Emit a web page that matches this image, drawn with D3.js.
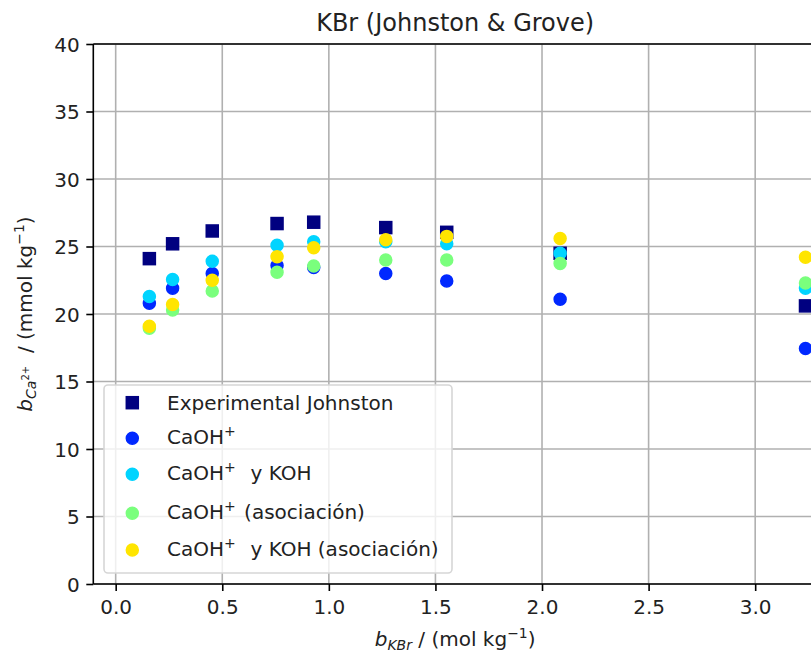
<!DOCTYPE html>
<html>
<head>
<meta charset="utf-8">
<script src="https://cdn.jsdelivr.net/npm/d3@7"></script>
<style>
  html, body { margin: 0; padding: 0; background: #fff; }
  svg { display: block; font-family: "DejaVu Sans", sans-serif; }
</style>
</head>
<body>
<div id="chart"></div>
<script>
// ---- data ----
const bKBr = [0.158, 0.267, 0.453, 0.757, 0.929, 1.267, 1.553, 2.085, 3.236];
const experimentalJohnston = [24.1, 25.2, 26.15, 26.7, 26.8, 26.4, 26.05, 24.5, 20.6];
const caohPlus = [20.8, 21.9, 23.0, 23.6, 23.45, 23.0, 22.45, 21.1, 17.45];
const caohPlusKOH = [21.3, 22.55, 23.9, 25.1, 25.35, 25.35, 25.2, 24.5, 21.9];
const caohPlusAsoc = [18.95, 20.3, 21.7, 23.1, 23.55, 24.0, 24.0, 23.75, 22.3];
const caohPlusKOHAsoc = [19.1, 20.7, 22.5, 24.25, 24.9, 25.5, 25.75, 25.6, 24.2];
const xTicks = [0.0, 0.5, 1.0, 1.5, 2.0, 2.5, 3.0];
const yTicks = [0, 5, 10, 15, 20, 25, 30, 35, 40];
const titleText = "KBr (Johnston & Grove)";

const series = [
  { values: experimentalJohnston, shape: "square", color: "#000080",
    label: [["Experimental Johnston", ""]] },
  { values: caohPlus, shape: "circle", color: "#0028ff",
    label: [["CaOH", ""], ["+", "sup"]] },
  { values: caohPlusKOH, shape: "circle", color: "#00d4ff",
    label: [["CaOH", ""], ["+", "sup"], ["\u00a0\u00a0y KOH", "post"]] },
  { values: caohPlusAsoc, shape: "circle", color: "#7aff7d",
    label: [["CaOH", ""], ["+", "sup"], ["\u00a0(asociación)", "post"]] },
  { values: caohPlusKOHAsoc, shape: "circle", color: "#ffe500",
    label: [["CaOH", ""], ["+", "sup"], ["\u00a0\u00a0y KOH (asociación)", "post"]] }
];

// ---- layout ----
const W = 811, H = 658;
const plot = { left: 93.3, right: 817, top: 44, bottom: 584 };
const FS = 20;

const svg = d3.select("#chart").append("svg")
  .attr("width", W).attr("height", H);

const x = d3.scaleLinear().domain([-0.105, 3.29]).range([plot.left, plot.right]);
const y = d3.scaleLinear().domain([0, 40]).range([plot.bottom, plot.top]);

// grid
const grid = svg.append("g");
grid.selectAll(".gx").data(xTicks).join("line")
  .attr("x1", d => x(d)).attr("x2", d => x(d))
  .attr("y1", plot.top).attr("y2", plot.bottom)
  .attr("stroke", "#b0b0b0").attr("stroke-width", 1.6);
grid.selectAll(".gy").data(yTicks).join("line")
  .attr("x1", plot.left).attr("x2", plot.right)
  .attr("y1", d => y(d)).attr("y2", d => y(d))
  .attr("stroke", "#b0b0b0").attr("stroke-width", 1.6);

// axes
const xAxis = d3.axisBottom(x).tickValues(xTicks).tickFormat(d3.format(".1f"))
  .tickSize(7).tickPadding(7);
const yAxis = d3.axisLeft(y).tickValues(yTicks).tickFormat(d3.format("d"))
  .tickSize(7).tickPadding(7);

const gx = svg.append("g").attr("transform", `translate(0,${plot.bottom})`).call(xAxis);
const gy = svg.append("g").attr("transform", `translate(${plot.left},0)`).call(yAxis);
[gx, gy].forEach(g => {
  g.select(".domain").remove();
  g.selectAll(".tick line").attr("stroke", "#000").attr("stroke-width", 1.6);
  g.selectAll(".tick text").attr("fill", "#222").attr("font-size", FS)
    .attr("font-family", "DejaVu Sans");
});
gx.selectAll(".tick text").attr("dy", null).attr("y", 30);
gy.selectAll(".tick text").attr("x", -13.5).attr("dy", "0.36em");

// spines
svg.append("line").attr("x1", plot.left).attr("x2", plot.left)
  .attr("y1", plot.top).attr("y2", plot.bottom).attr("stroke", "#000").attr("stroke-width", 1.6);
svg.append("line").attr("x1", plot.left).attr("x2", plot.right)
  .attr("y1", plot.bottom).attr("y2", plot.bottom).attr("stroke", "#000").attr("stroke-width", 1.6);
svg.append("line").attr("x1", plot.left).attr("x2", plot.right)
  .attr("y1", plot.top).attr("y2", plot.top).attr("stroke", "#000").attr("stroke-width", 1.6);
svg.append("line").attr("x1", plot.right).attr("x2", plot.right)
  .attr("y1", plot.top).attr("y2", plot.bottom).attr("stroke", "#000").attr("stroke-width", 1.6);

// markers
const R = 6, SQ = 12;
const marks = svg.append("g");
series.forEach(s => {
  const pts = bKBr.map((b, i) => ({ b, v: s.values[i] }));
  if (s.shape === "square") {
    marks.append("g").selectAll("rect").data(pts).join("rect")
      .attr("x", d => x(d.b) - SQ / 2).attr("y", d => y(d.v) - SQ / 2)
      .attr("width", SQ).attr("height", SQ)
      .attr("fill", s.color).attr("stroke", s.color).attr("stroke-width", 1.5);
  } else {
    marks.append("g").selectAll("circle").data(pts).join("circle")
      .attr("cx", d => x(d.b)).attr("cy", d => y(d.v)).attr("r", R)
      .attr("fill", s.color).attr("stroke", s.color).attr("stroke-width", 1.5);
  }
});

// title
svg.append("text").attr("x", (plot.left + plot.right) / 2).attr("y", 31)
  .attr("text-anchor", "middle").attr("font-size", 24).attr("fill", "#222")
  .text(titleText);

// x label
const xl = svg.append("text").attr("x", (plot.left + plot.right) / 2).attr("y", 646)
  .attr("text-anchor", "middle").attr("font-size", FS).attr("fill", "#222");
xl.append("tspan").attr("font-style", "italic").text("b");
xl.append("tspan").attr("font-style", "italic").attr("font-size", 14).attr("dy", 4).text("KBr");
xl.append("tspan").attr("dy", -4).text("\u00a0/ (mol kg");
xl.append("tspan").attr("font-size", 14).attr("dy", -8).text("\u22121");
xl.append("tspan").attr("dy", 8).text(")");

// y label
const yl = svg.append("text").attr("transform", `translate(32,${(plot.top + plot.bottom) / 2}) rotate(-90)`)
  .attr("text-anchor", "middle").attr("font-size", FS).attr("fill", "#222");
yl.append("tspan").attr("font-style", "italic").text("b");
yl.append("tspan").attr("font-style", "italic").attr("font-size", 14).attr("dy", 4).text("Ca");
yl.append("tspan").attr("font-size", 10).attr("dy", -7).text("2+");
yl.append("tspan").attr("dy", 3).text("\u00a0\u00a0/ (mmol kg");
yl.append("tspan").attr("font-size", 14).attr("dy", -8).text("\u22121");
yl.append("tspan").attr("dy", 8).text(")");

// legend
const leg = { x: 104, y: 385, w: 348, h: 188 };
const rowCenters = [17.7, 53.3, 89.3, 128.3, 165];
const lg = svg.append("g");
lg.append("rect").attr("x", leg.x).attr("y", leg.y).attr("width", leg.w).attr("height", leg.h)
  .attr("rx", 4).attr("fill", "#fff").attr("fill-opacity", 0.8)
  .attr("stroke", "#d6d6d6").attr("stroke-width", 1.6);
series.forEach((s, i) => {
  const cy = leg.y + rowCenters[i];
  const mx = 132.3;
  if (s.shape === "square") {
    lg.append("rect").attr("x", mx - SQ / 2).attr("y", cy - SQ / 2).attr("width", SQ).attr("height", SQ)
      .attr("fill", s.color).attr("stroke", s.color).attr("stroke-width", 1.5);
  } else {
    lg.append("circle").attr("cx", mx).attr("cy", cy).attr("r", R)
      .attr("fill", s.color).attr("stroke", s.color).attr("stroke-width", 1.5);
  }
  const t = lg.append("text").attr("x", 167).attr("y", cy + (i === 0 ? 7 : 5.5))
    .attr("font-size", FS).attr("fill", "#222");
  s.label.forEach(([txt, kind]) => {
    if (kind === "sup") t.append("tspan").attr("font-size", 14).attr("dy", -8).text(txt);
    else if (kind === "post") t.append("tspan").attr("dy", 8).attr("dx", 2).text(txt);
    else t.append("tspan").text(txt);
  });
});
</script>
</body>
</html>
